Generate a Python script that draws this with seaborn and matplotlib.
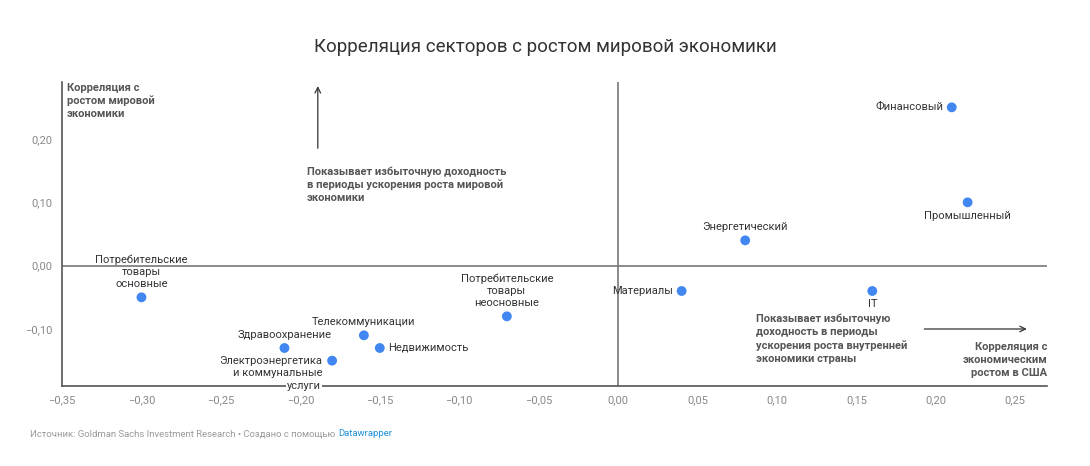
import matplotlib
matplotlib.use("Agg")
import matplotlib.pyplot as plt
import seaborn as sns
import pandas as pd

# data
sectors = ["Потребительские\nтовары\nосновные", "Здравоохранение",
           "Электроэнергетика\nи коммунальные\nуслуги", "Телекоммуникации",
           "Недвижимость", "Потребительские\nтовары\nнеосновные",
           "Материалы", "Энергетический", "IT", "Финансовый", "Промышленный"]
us_corr = [-0.30, -0.21, -0.18, -0.16, -0.15, -0.07, 0.04, 0.08, 0.16, 0.21, 0.22]
world_corr = [-0.05, -0.13, -0.15, -0.11, -0.13, -0.08, -0.04, 0.04, -0.04, 0.25, 0.10]
x_ticks = [-0.35, -0.30, -0.25, -0.20, -0.15, -0.10, -0.05, 0.00, 0.05, 0.10, 0.15, 0.20, 0.25]
y_ticks = [-0.10, 0.00, 0.10, 0.20]

df = pd.DataFrame({"sector": sectors, "us": us_corr, "world": world_corr})

sns.set_style("white")
plt.rcParams["font.family"] = ["Roboto", "DejaVu Sans"]

fig = plt.figure(figsize=(10.9, 4.66), dpi=100)
ax = fig.add_axes([0.0569, 0.1717, 0.9037, 0.6523])

sns.scatterplot(data=df, x="us", y="world", ax=ax, color="#4286f2", s=50,
                edgecolor="none", zorder=5)

ax.set_xlim(-0.35, 0.27)
ax.set_ylim(-0.19, 0.29)
ax.axhline(0, color="#777777", lw=1.2, zorder=1)
ax.axvline(0, color="#777777", lw=1.2, zorder=1)

for s in ["top", "right"]:
    ax.spines[s].set_visible(False)
for s in ["left", "bottom"]:
    ax.spines[s].set_color("#555555")
    ax.spines[s].set_linewidth(1.2)

ax.set_xticks(x_ticks)
ax.set_yticks(y_ticks)
fmt = lambda v: ("−" if v < -1e-9 else "") + f"{abs(v):.2f}".replace(".", ",")
ax.set_xticklabels([fmt(v) for v in x_ticks])
ax.set_yticklabels([fmt(v) for v in y_ticks])
ax.tick_params(axis="both", length=0, labelsize=8, colors="#888888", pad=7)
ax.set_xlabel("")
ax.set_ylabel("")

# point labels: (ha, va, dx, dy) offsets in points
place = {
    0: ("center", "bottom", 0, 6),
    1: ("center", "bottom", 0, 6),
    2: ("right", "top", -7, 3),
    3: ("center", "bottom", 0, 6),
    4: ("left", "center", 6, 0),
    5: ("center", "bottom", 0, 6),
    6: ("right", "center", -6, 0),
    7: ("center", "bottom", 0, 6),
    8: ("center", "top", 0, -6),
    9: ("right", "center", -6, 0),
    10: ("center", "top", 0, -6),
}
lab = dict(textcoords="offset points", fontsize=8, color="#333333", linespacing=1.25, zorder=6)
for i, row in df.iterrows():
    ha, va, dx, dy = place[i]
    if i == 2:
        # last line sits on the x axis with a white background behind it
        head, tail = row["sector"].rsplit("\n", 1)
        ax.annotate(head, (row["us"], row["world"]), xytext=(dx, dy), ha=ha, va=va,
                    multialignment="right", **lab)
        t = ax.annotate(tail, (row["us"], row["world"]), xytext=(dx - 1, dy - 17.5),
                        ha=ha, va=va, clip_on=False, **lab)
        t.set_bbox(dict(facecolor="white", edgecolor="none", pad=0.8))
        continue
    ax.annotate(row["sector"], (row["us"], row["world"]), xytext=(dx, dy), ha=ha, va=va,
                multialignment="center", **lab)

note = dict(fontsize=8, color="#555555", fontweight="semibold", linespacing=1.35)
ax.text(-0.347, 0.289, "Корреляция с\nростом мировой\nэкономики", ha="left", va="top", **note)
ax.text(-0.196, 0.157, "Показывает избыточную доходность\nв периоды ускорения роста мировой\nэкономики",
        ha="left", va="top", **note)
ax.text(0.087, -0.076, "Показывает избыточную\nдоходность в периоды\nускорения роста внутренней\nэкономики страны",
        ha="left", va="top", **note)
ax.text(0.27, -0.121, "Корреляция с\nэкономическим\nростом в США", ha="right", va="top",
        multialignment="right", **note)

ax.annotate("", xy=(-0.189, 0.288), xytext=(-0.189, 0.181),
            arrowprops=dict(arrowstyle="->", color="#333333", lw=0.9))
ax.annotate("", xy=(0.259, -0.10), xytext=(0.191, -0.10),
            arrowprops=dict(arrowstyle="->", color="#333333", lw=0.9))

fig.text(0.5, 0.9, "Корреляция секторов с ростом мировой экономики", ha="center",
         va="center", fontsize=13.5, color="#333333")
src = fig.text(0.0275, 0.069, "Источник: Goldman Sachs Investment Research • Создано с помощью",
               ha="left", va="center", fontsize=6.8, color="#999999")
fig.canvas.draw()
bb = src.get_window_extent().transformed(fig.transFigure.inverted())
fig.text(bb.x1 + 0.003, 0.069, "Datawrapper", ha="left", va="center", fontsize=6.8, color="#1d8fd8")

fig.savefig("out.png", dpi=100)
